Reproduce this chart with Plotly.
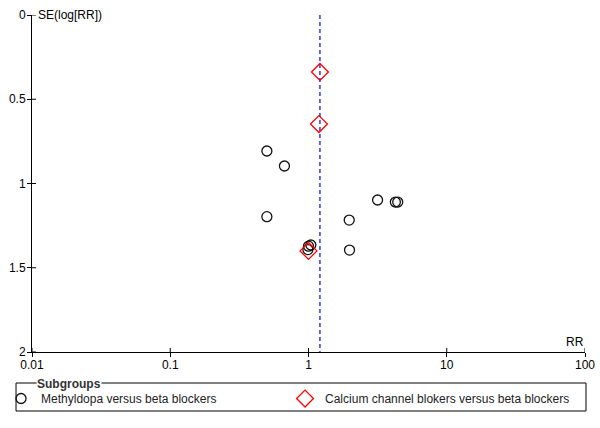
import plotly.graph_objects as go

# Data
methyldopa_rr = [0.5, 0.67, 0.5, 1.0, 1.04, 0.99, 1.97, 1.98, 3.16, 4.25, 4.42]
methyldopa_se = [0.807, 0.896, 1.197, 1.372, 1.365, 1.392, 1.217, 1.395, 1.098, 1.110, 1.110]
ccb_rr = [1.21, 1.19, 1.0]
ccb_se = [0.338, 0.647, 1.40]
pooled_rr = 1.21
x_tickvals = [0.01, 0.1, 1, 10, 100]
x_ticktext = ["0.01", "0.1", "1", "10", "100"]
y_tickvals = [0, 0.5, 1, 1.5, 2]
y_ticktext = ["0", "0.5", "1", "1.5", "2"]
series_names = ["Methyldopa versus beta blockers", "Calcium channel blokers versus beta blockers"]

FONT = "Arial, Liberation Sans, sans-serif"

fig = go.Figure()

fig.add_trace(go.Scatter(
    x=[pooled_rr, pooled_rr], y=[0, 2], mode="lines",
    line=dict(color="#0000ee", width=1.2, dash="4px,3px"),
    showlegend=False, hoverinfo="skip"))

fig.add_trace(go.Scatter(
    x=methyldopa_rr, y=methyldopa_se, mode="markers", name=series_names[0],
    marker=dict(symbol="circle-open", size=10, color="#111111", line=dict(width=1.3))))

fig.add_trace(go.Scatter(
    x=ccb_rr, y=ccb_se, mode="markers", name=series_names[1],
    marker=dict(symbol="diamond-open", size=13, color="#ff0000", line=dict(width=1.3))))

# inside half of the crossing tick marks
tick_shapes = []
for v in x_tickvals:
    tick_shapes.append(dict(type="line", xref="x", yref="y", x0=v, x1=v,
                            ysizemode="pixel", yanchor=2, y0=0, y1=4,
                            line=dict(color="black", width=1)))
for v in y_tickvals:
    tick_shapes.append(dict(type="line", xref="x", yref="y", y0=v, y1=v,
                            xsizemode="pixel", xanchor=0.01, x0=0, x1=4,
                            line=dict(color="black", width=1)))

fig.update_layout(
    width=600, height=428,
    margin=dict(l=32, r=15, t=15, b=76, autoexpand=False),
    paper_bgcolor="white", plot_bgcolor="white",
    font=dict(family=FONT, size=12, color="#000000"),
    xaxis=dict(type="log", range=[-2, 2], tickvals=x_tickvals, ticktext=x_ticktext,
               showgrid=False, zeroline=False, showline=True, linecolor="black", linewidth=1,
               ticks="outside", ticklen=4, tickcolor="black", ticklabelstandoff=-2,
               tickfont=dict(size=12, family=FONT)),
    yaxis=dict(range=[2, 0], tickvals=y_tickvals, ticktext=y_ticktext,
               showgrid=False, zeroline=False, showline=True, linecolor="black", linewidth=1,
               ticks="outside", ticklen=4, tickcolor="black", ticklabelstandoff=-1,
               tickfont=dict(size=12, family=FONT)),
    showlegend=True,
    legend=dict(orientation="h", x=-0.056, xanchor="left", y=-0.095, yanchor="top",
                bgcolor="rgba(0,0,0,0)", borderwidth=0,
                entrywidth=239, entrywidthmode="pixels",
                font=dict(family=FONT, size=12, color="#222222"),
                itemclick=False, itemdoubleclick=False),
    annotations=[
        dict(text="SE(log[RR])", xref="paper", yref="paper", x=0, y=1, xanchor="left",
             yanchor="bottom", xshift=4, yshift=-9, showarrow=False,
             font=dict(family=FONT, size=12, color="black")),
        dict(text="RR", xref="paper", yref="paper", x=1, y=0, xanchor="right",
             yanchor="bottom", xshift=1, yshift=1, showarrow=False,
             font=dict(family=FONT, size=12, color="black")),
        dict(text="<b>Subgroups</b>", xref="paper", yref="paper", x=-0.0208, y=-0.0950,
             xanchor="left", yanchor="middle", xshift=16, yshift=0, showarrow=False,
             bgcolor="white", borderpad=0,
             font=dict(family=FONT, size=12, color="#333333")),
    ],
    shapes=tick_shapes + [
        dict(type="rect", xref="paper", yref="paper",
             x0=-0.0289, x1=1.0018, y0=-0.1751, y1=-0.0920,
             line=dict(color="black", width=1), fillcolor="rgba(0,0,0,0)", layer="below"),
    ],
)

fig.write_html("out.html", config={"displayModeBar": False},
               post_script="document.body.style.margin='0';")
